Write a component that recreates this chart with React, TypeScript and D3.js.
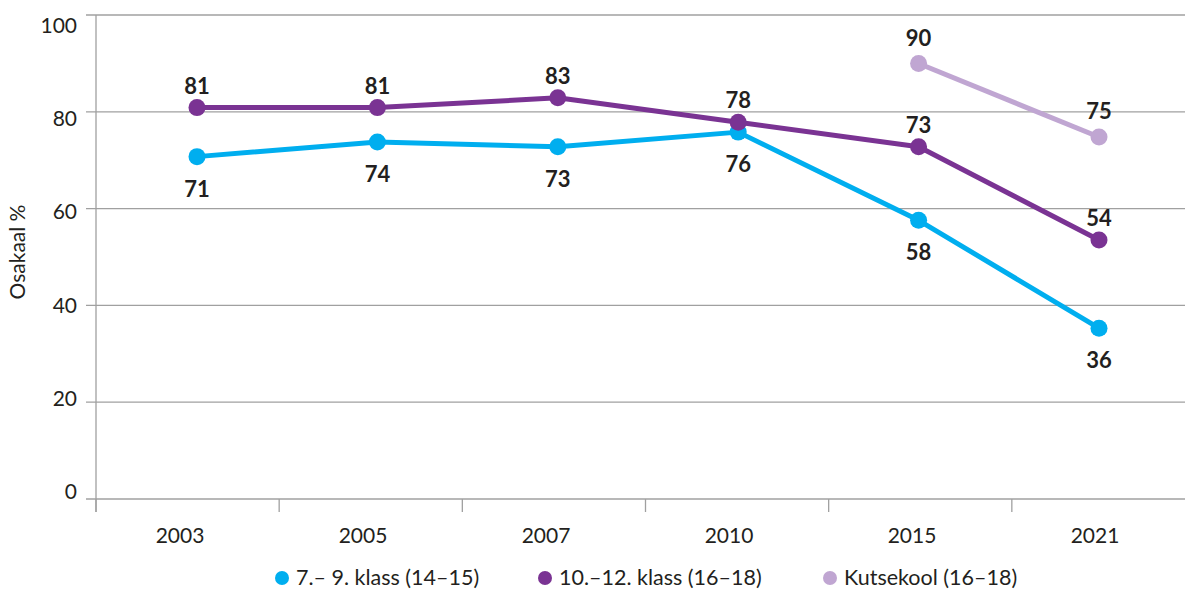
import React from "react";
import * as d3 from "d3";

const years = ["2003", "2005", "2007", "2010", "2015", "2021"];
const grade7to9 = [71, 74, 73, 76, 58, 36];
const grade10to12 = [81, 81, 83, 78, 73, 54];
const vocational: (number | null)[] = [null, null, null, null, 90, 75];
const yTicks = [0, 20, 40, 60, 80, 100];
const seriesNames = ["7.– 9. klass (14–15)", "10.–12. klass (16–18)", "Kutsekool (16–18)"];
const colors = ["#00aeef", "#7a3393", "#c0a6d2"];

const W = 1185;
const H = 589;
const FONT = "Lato, 'Open Sans', sans-serif";
const TEXT = "#231f20";
const GRID = "#a0a0a0";

export default function App() {
  const xBand = d3.scaleBand<string>().domain(years).range([96, 1195]).padding(0);
  const xLabel = d3.scalePoint<string>().domain(years).range([180, 1095]);
  const xPt = d3.scalePoint<string>().domain(years).range([197, 1099]);
  const yGrid = d3.scaleLinear().domain([0, 100]).range([499, 15]);
  const yLab = d3.scaleLinear().domain([0, 100]).range([499, 33]);
  const yPt = d3.scaleLinear().domain([0, 100]).range([504.6, 14.5]);

  const series = [
    { name: seriesNames[0], values: grade7to9 as (number | null)[], color: colors[0], labelDy: 40 },
    { name: seriesNames[1], values: grade10to12 as (number | null)[], color: colors[1], labelDy: -14 },
    { name: seriesNames[2], values: vocational, color: colors[2], labelDy: -18 },
  ];

  const line = d3
    .line<{ x: string; v: number | null }>()
    .defined((d) => d.v != null)
    .x((d) => xPt(d.x) as number)
    .y((d) => yPt(d.v as number));

  const legendX = [282, 545, 830];

  return (
    <svg width={W} height={H} style={{ position: "absolute", left: 0, top: 0, background: "#fff" }} fontFamily={FONT}>
      {yTicks.map((t) => (
        <line key={"g" + t} x1={86} x2={W} y1={yGrid(t)} y2={yGrid(t)} stroke={GRID} strokeWidth={1.3} />
      ))}
      <line x1={96} x2={96} y1={yGrid(100)} y2={512} stroke={GRID} strokeWidth={1.3} />
      {years.map((y) => (
        <line key={"t" + y} x1={xBand(y) as number} x2={xBand(y) as number} y1={yGrid(0)} y2={512} stroke={GRID} strokeWidth={1.3} />
      ))}
      {yTicks.map((t) => (
        <text key={"yl" + t} x={77} y={yLab(t)} textAnchor="end" fontSize={21} fill={TEXT}>
          {t}
        </text>
      ))}
      {years.map((y) => (
        <text key={"xl" + y} x={xLabel(y) as number} y={543} textAnchor="middle" fontSize={21} fill={TEXT}>
          {y}
        </text>
      ))}
      <text transform="translate(25,252) rotate(-90)" textAnchor="middle" fontSize={21} fill={TEXT}>
        Osakaal %
      </text>
      {series.map((s) => {
        const pts = years.map((x, i) => ({ x, v: s.values[i] }));
        return (
          <g key={s.name}>
            <path d={line(pts) || ""} fill="none" stroke={s.color} strokeWidth={5} strokeLinejoin="round" />
            {pts
              .filter((p) => p.v != null)
              .map((p) => (
                <circle key={p.x} cx={xPt(p.x) as number} cy={yPt(p.v as number)} r={8.5} fill={s.color} />
              ))}
          </g>
        );
      })}
      {series.map((s) =>
        years.map((x, i) =>
          s.values[i] == null ? null : (
            <text
              key={s.name + x + "l"}
              x={xPt(x) as number}
              y={yPt(s.values[i] as number) + s.labelDy}
              textAnchor="middle"
              fontSize={22}
              fontWeight="bold"
              fill={TEXT}
            >
              {s.values[i]}
            </text>
          )
        )
      )}
      {series.map((s, i) => (
        <g key={"lg" + i}>
          <circle cx={legendX[i]} cy={578} r={7} fill={s.color} />
          <text x={legendX[i] + 14} y={585} fontSize={21.5} fill={TEXT}>
            {s.name}
          </text>
        </g>
      ))}
    </svg>
  );
}
